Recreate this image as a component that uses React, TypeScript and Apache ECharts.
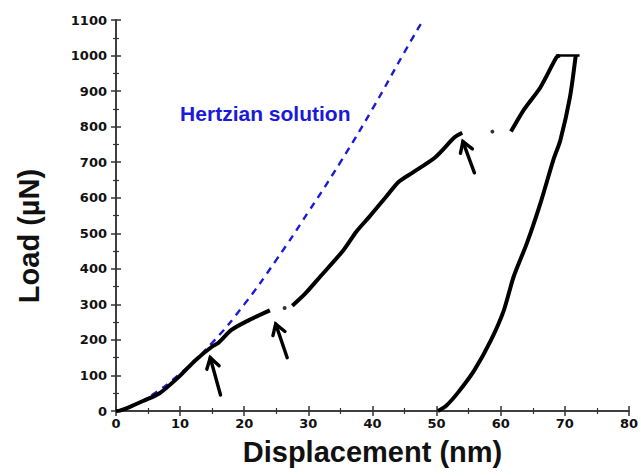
import React, { useEffect, useRef } from "react";
import * as echarts from "echarts";

// Hertzian solution (blue dashed)
const hertzian: number[][] = [
  [0, 0], [2, 10], [5, 38], [10, 105], [15, 192], [20, 300], [25, 425],
  [30, 560], [35, 700], [40, 850], [45, 1010], [47.9, 1100],
];

// Loading curve segments (black), separated by pop-ins
const loadSeg1: number[][] = [
  [0, 0], [0.6, 1], [2.1, 11], [4.2, 28], [6.8, 50], [9.8, 96], [12.4, 143],
  [14.9, 180], [16, 192], [18, 228], [21, 258], [24, 283],
];
const loadSeg2: number[][] = [
  [27.5, 296], [29.5, 330], [31.8, 377], [35.5, 453], [37.5, 505], [39.5, 546],
  [42, 600], [44.1, 645], [46.2, 670], [49.8, 714], [52.8, 770], [54, 783],
];
const loadSeg3: number[][] = [
  [61.6, 786], [63.6, 847], [66.2, 911], [68.7, 995], [69.2, 1000],
];
const holdSeg: number[][] = [
  [68.6, 1000], [72.3, 1000],
];
const unloadSeg: number[][] = [
  [71.7, 1000], [70.8, 883], [69.3, 762], [68.2, 706], [66.2, 585], [64.1, 473],
  [62, 377], [60.5, 284], [58.5, 200], [55.9, 115], [53.3, 51], [51.5, 15], [50.2, 0],
];
const isolatedDots: number[][] = [
  [26.3, 290], [58.7, 786],
];

// Arrows: [tip, tail] in data coordinates
const arrows: number[][][] = [
  [[14.7, 150], [16.3, 45]],
  [[24.9, 245], [26.7, 150]],
  [[54.1, 758], [55.9, 670]],
];

const hertzLabel = "Hertzian solution";
const hertzLabelPos = [10.0, 838];
const yTitle = "Load (\u00b5N)";
const xTitle = "Displacement (nm)";

const FONT = "'Liberation Sans', Arial, sans-serif";
const TICK_FONT = "'DejaVu Sans', 'Liberation Sans', sans-serif";
const AXIS_COLOR = "#333";

export default function App() {
  const ref = useRef<HTMLDivElement>(null);
  useEffect(() => {
    if (!ref.current) return;
    const chart = echarts.init(ref.current, undefined, { renderer: "svg" });
    const axisLine = { show: true, lineStyle: { color: AXIS_COLOR, width: 1.5 } };
    const tickCommon = { show: true, inside: false, length: 5, lineStyle: { color: AXIS_COLOR, width: 1.5 } };
    const minorCommon = { show: true, splitNumber: 2, length: 3, lineStyle: { color: AXIS_COLOR, width: 1.2 } };
    const labelStyle = {
      color: "#111", fontFamily: TICK_FONT, fontWeight: "bold", fontSize: 13,
      formatter: (v: number) => String(v),
    };
    const lineSeries = (data: number[][]) => ({
      type: "line",
      data,
      symbol: "none",
      smooth: 0.25,
      lineStyle: { color: "#000", width: 4 },
      z: 3,
    });
    chart.setOption({
      animation: false,
      backgroundColor: "#fff",
      grid: { left: 116, right: 4, top: 20, bottom: 65, containLabel: false },
      xAxis: [
        {
          type: "value", min: 0, max: 80, interval: 10, position: "bottom",
          axisLine, axisTick: tickCommon, minorTick: minorCommon, splitLine: { show: false },
          axisLabel: { ...labelStyle, margin: 6 },
          name: xTitle, nameLocation: "middle", nameGap: 26,
          nameTextStyle: { color: "#111", fontFamily: FONT, fontWeight: "bold", fontSize: 29 },
        },
        {
          type: "value", min: 0, max: 80, interval: 10, position: "top",
          axisLine, axisTick: tickCommon, minorTick: minorCommon, splitLine: { show: false },
          axisLabel: { show: false },
        },
      ],
      yAxis: [
        {
          type: "value", min: 0, max: 1100, interval: 100, position: "left",
          axisLine, axisTick: tickCommon, minorTick: minorCommon, splitLine: { show: false },
          axisLabel: { ...labelStyle, margin: 9 },
        },
        {
          type: "value", min: 0, max: 1100, interval: 100, position: "right",
          axisLine, axisTick: tickCommon, minorTick: minorCommon, splitLine: { show: false },
          axisLabel: { show: false },
        },
      ],
      series: [
        {
          type: "line",
          data: hertzian,
          symbol: "none",
          smooth: true,
          lineStyle: { color: "#1a1ad8", width: 2.4, type: [7, 6] },
          z: 2,
        },
        lineSeries(loadSeg1),
        lineSeries(loadSeg2),
        lineSeries(loadSeg3),
        { ...lineSeries(holdSeg), smooth: false, lineStyle: { color: "#000", width: 2.5 } },
        lineSeries(unloadSeg),
        {
          type: "scatter",
          data: isolatedDots,
          symbolSize: 4,
          itemStyle: { color: "#000" },
          z: 3,
        },
      ],
    });

    const px = (d: number[]) => chart.convertToPixel({ gridIndex: 0 }, d) as number[];
    const graphics: any[] = [];
    arrows.forEach(([tipD, tailD]) => {
      const tip = px(tipD);
      const tail = px(tailD);
      const dx = tail[0] - tip[0];
      const dy = tail[1] - tip[1];
      const len = Math.hypot(dx, dy) || 1;
      const ux = dx / len;
      const uy = dy / len;
      const h = 12;
      const ang = (32 * Math.PI) / 180;
      const rot = (a: number) => [ux * Math.cos(a) - uy * Math.sin(a), ux * Math.sin(a) + uy * Math.cos(a)];
      const r1 = rot(ang);
      const r2 = rot(-ang);
      graphics.push({
        type: "line",
        shape: { x1: tip[0], y1: tip[1], x2: tail[0], y2: tail[1] },
        style: { stroke: "#000", lineWidth: 3.4, lineCap: "round" },
        z: 10,
      });
      graphics.push({
        type: "polyline",
        shape: {
          points: [
            [tip[0] + r1[0] * h, tip[1] + r1[1] * h],
            [tip[0], tip[1]],
            [tip[0] + r2[0] * h, tip[1] + r2[1] * h],
          ],
        },
        style: { stroke: "#000", lineWidth: 3.4, lineCap: "round", lineJoin: "miter", fill: null },
        z: 10,
      });
    });
    const lp = px(hertzLabelPos);
    graphics.push({
      type: "text",
      x: lp[0],
      y: lp[1],
      style: {
        text: hertzLabel,
        fill: "#1a1ad8",
        font: `bold 21px ${FONT}`,
        textAlign: "left",
        textVerticalAlign: "middle",
      },
      z: 10,
    });
    graphics.push({
      type: "text",
      x: 29,
      y: 236,
      rotation: Math.PI / 2,
      style: {
        text: yTitle,
        fill: "#111",
        font: `bold 29px ${FONT}`,
        textAlign: "center",
        textVerticalAlign: "middle",
      },
      z: 10,
    });
    chart.setOption({ graphic: graphics });

    return () => chart.dispose();
  }, []);
  return (
    <div
      ref={ref}
      style={{ position: "fixed", left: 0, top: 0, width: 641, height: 476 }}
    />
  );
}
